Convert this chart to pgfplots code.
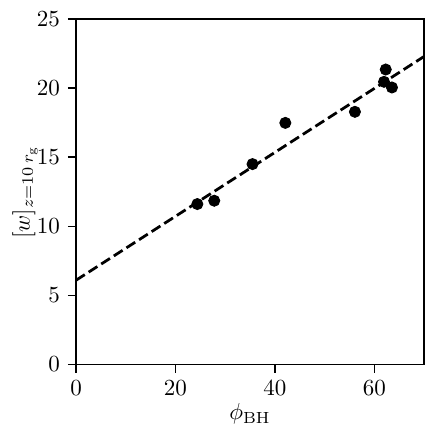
\documentclass[border=0pt]{standalone}
\usepackage{pgfplots}
\pgfplotsset{compat=1.18}
\begin{document}
\begin{tikzpicture}
\begin{axis}[
  scale only axis,
  width=151pt, height=150pt,
  xmin=0, xmax=70, ymin=0, ymax=25,
  xtick={0,20,40,60}, ytick={0,5,10,15,20,25},
  xtick pos=bottom, ytick pos=left,
  tick align=outside,
  major tick length=3.5pt,
  axis line style={line width=0.6pt},
  every tick/.style={black, line width=0.6pt},
  xlabel={$\phi_{\rm BH}$},
  ylabel={$[w]_{z=10\,r_{\rm g}}$},
  every axis y label/.style={at={(axis description cs:0,0.5)}, xshift=-22.2pt, rotate=90, anchor=center},
  every axis x label/.style={at={(axis description cs:0.5,0)}, yshift=-21.5pt, anchor=center},
  clip=true,
]
\addplot[only marks, mark=*, mark size=2.4pt, black] coordinates {
  (24.4,11.61) (27.8,11.85) (35.5,14.5) (42.1,17.48) (56.1,18.28)
  (62.3,21.34) (61.95,20.45) (63.55,20.04)
};
\addplot[black, line width=1.2pt, dash pattern=on 4.5pt off 2pt] coordinates {
  (0,6.1) (70,22.28)
};
\end{axis}
\pgfresetboundingbox
\path (current axis.south west) ++(-33pt,-29.5pt) coordinate (bbA);
\path (current axis.north east) ++(5.2pt,8.2pt) coordinate (bbB);
\useasboundingbox (bbA) rectangle (bbB);
\end{tikzpicture}
\end{document}
